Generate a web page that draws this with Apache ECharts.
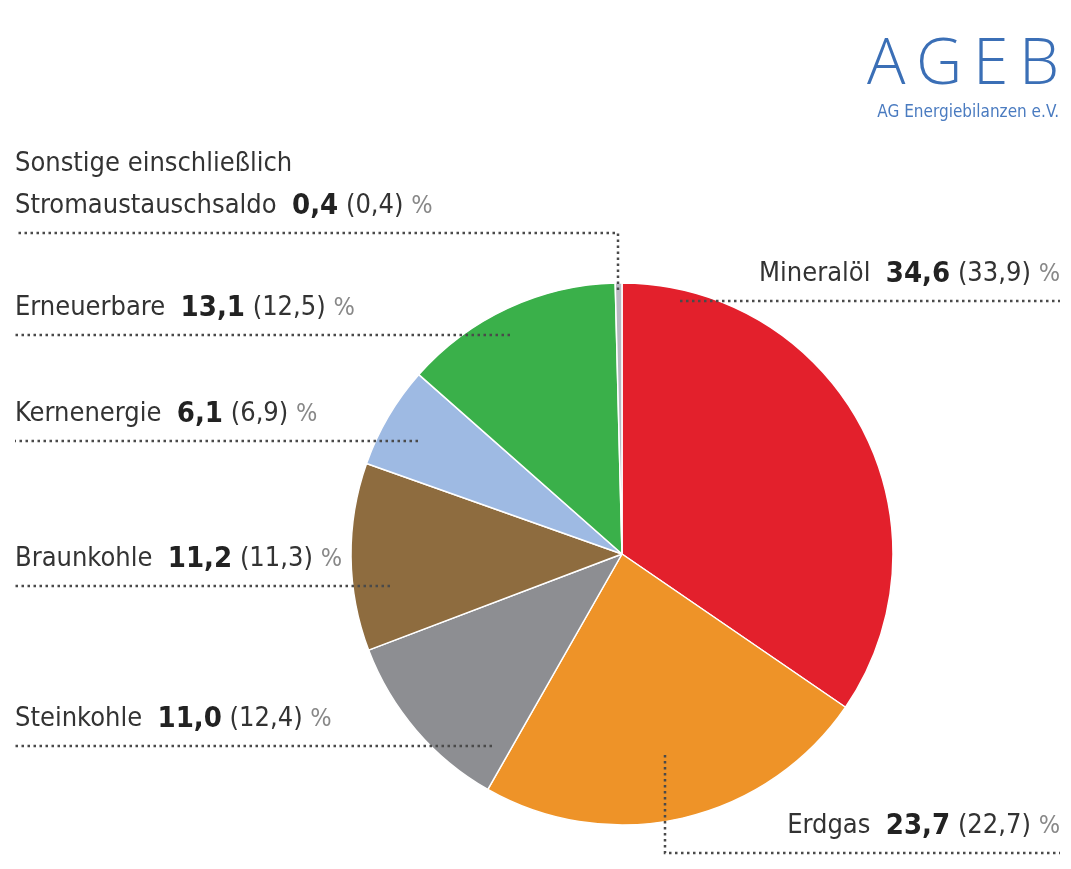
<!DOCTYPE html>
<html>
<head>
<meta charset="utf-8">
<script src="https://cdn.jsdelivr.net/npm/echarts@6/dist/echarts.min.js"></script>
<style>
html,body{margin:0;padding:0;background:#fff;}
#chart{width:1071px;height:869px;}
</style>
</head>
<body>
<div id="chart"></div>
<script>
// ---- data ----
const categories = ['Mineralöl', 'Erdgas', 'Steinkohle', 'Braunkohle', 'Kernenergie', 'Erneuerbare', 'Sonstige einschließlich\nStromaustauschsaldo'];
const shares = [34.6, 23.7, 11.0, 11.2, 6.1, 13.1, 0.4];
const previousShares = [33.9, 22.7, 12.4, 11.3, 6.9, 12.5, 0.4];

// ---- styles / layout ----
const colors = ['#E3202C', '#EE9328', '#8D8E92', '#8E6C3F', '#9EBAE3', '#3AB04A', '#B9B9C2'];
// label anchor (x, y of the dotted line) and leader-line points
const labelLayouts = [
  {x: 1060, y: 301, align: 'right', pts: [[680, 301], [1060, 301], [1060, 301]]},
  {x: 1060, y: 853, align: 'right', pts: [[665, 755], [665, 853], [1060, 853]]},
  {x: 15, y: 746, align: 'left', pts: [[492, 746], [15, 746], [15, 746]]},
  {x: 15, y: 586, align: 'left', pts: [[390, 586], [15, 586], [15, 586]]},
  {x: 15, y: 441, align: 'left', pts: [[418, 441], [15, 441], [15, 441]]},
  {x: 15, y: 335, align: 'left', pts: [[510, 335], [15, 335], [15, 335]]},
  {x: 15, y: 233, align: 'left', pts: [[618, 290], [618, 233], [15, 233]]}
];
const FONT = "'Liberation Sans Narrow', 'DejaVu Sans Condensed', 'Roboto Condensed', sans-serif";
const fmt = v => v.toFixed(1).replace('.', ',');

const chart = echarts.init(document.getElementById('chart'), null, {renderer: 'canvas'});

const data = categories.map((c, i) => ({
  name: c,
  value: shares[i],
  itemStyle: {color: colors[i]}
}));
const labelData = categories.map((c, i) => ({name: c, value: shares[i]}));

chart.setOption({
  animation: false,
  backgroundColor: '#ffffff',
  graphic: [
    {type: 'text', right: 12, top: 34, style: {text: 'A\u2009G\u2009E\u2009B', font: "300 64px 'Open Sans', sans-serif", fill: '#3B6FB6'}},
    {type: 'text', right: 12, top: 104, style: {text: 'AG Energiebilanzen e.V.', font: "17px " + FONT, fill: '#4A7BC0'}}
  ],
  series: [{
    type: 'pie',
    z: 2,
    center: [622, 554],
    radius: 271,
    startAngle: 90,
    clockwise: true,
    silent: true,
    data: data,
    itemStyle: {borderColor: '#ffffff', borderWidth: 1.5},
    label: {show: false},
    labelLine: {show: false}
  }, {
    type: 'pie',
    z: 3,
    center: [622, 554],
    radius: 271,
    startAngle: 90,
    clockwise: true,
    silent: true,
    avoidLabelOverlap: false,
    data: labelData,
    itemStyle: {color: 'rgba(0,0,0,0)', borderWidth: 0},
    label: {
      show: true,
      position: 'outside',
      formatter: function (p) {
        const i = p.dataIndex;
        const nameLines = categories[i].split('\n');
        let s = '';
        for (let k = 0; k < nameLines.length - 1; k++) s += '{n|' + nameLines[k] + '}\n';
        s += '{n|' + nameLines[nameLines.length - 1] + '  }{b|' + fmt(shares[i]) + '}{n| (' + fmt(previousShares[i]) + ') }{p|%}';
        return s;
      },
      rich: {
        n: {fontFamily: FONT, fontSize: 27, color: '#333333', lineHeight: 42},
        b: {fontFamily: FONT, fontSize: 29, fontWeight: 'bold', color: '#222222', lineHeight: 42},
        p: {fontFamily: FONT, fontSize: 25, color: '#888888', lineHeight: 42}
      }
    },
    labelLine: {
      show: true,
      lineStyle: {color: '#4a4a4a', width: 2.5, type: [2.5, 3.5]}
    },
    labelLayout: function (params) {
      const L = labelLayouts[params.dataIndex];
      return {
        x: L.x,
        y: L.y - 6,
        align: L.align,
        verticalAlign: 'bottom',
        labelLinePoints: L.pts
      };
    }
  }]
});
</script>
</body>
</html>
